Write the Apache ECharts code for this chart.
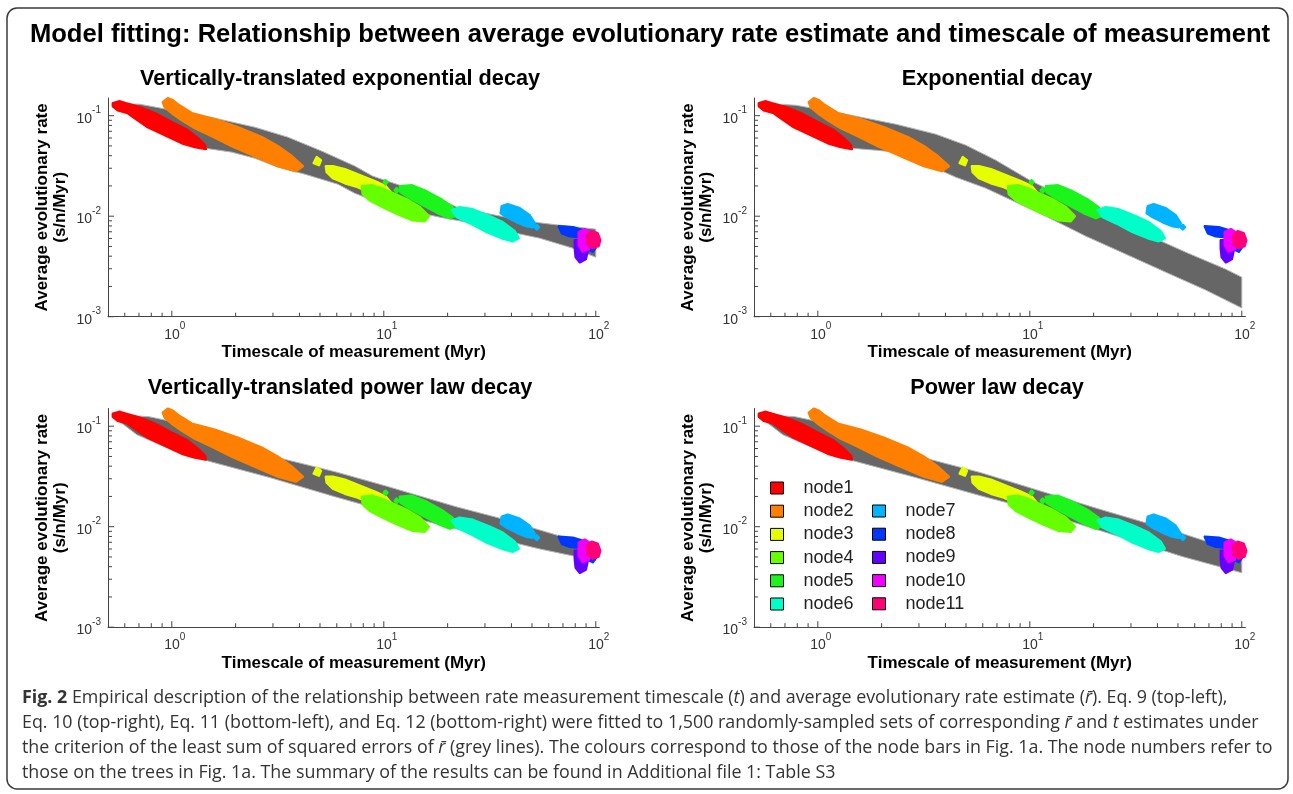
<!DOCTYPE html>
<html>
<head>
<meta charset="utf-8">
<script src="https://cdn.jsdelivr.net/npm/echarts@6/dist/echarts.min.js"></script>
<style>
html, body { margin: 0; padding: 0; background: #fff; }
#chart { width: 1293px; height: 794px; }
</style>
</head>
<body>
<div id="chart"></div>
<script>
// node clouds, each one a list of outlines; points are [timescale (Myr), rate (s/n/Myr)]
var node1 = [[[0.527,0.133],[0.569,0.139],[0.607,0.133],[0.706,0.1215],[0.832,0.106],[1.0,0.0862],[1.189,0.0717],[1.327,0.0597],[1.431,0.0509],[1.447,0.0465],[1.283,0.0487],[1.115,0.0532],[0.927,0.064],[0.770,0.0769],[0.669,0.0944],[0.620,0.106],[0.556,0.1134],[0.527,0.1244]]];
var node2 = [[[0.907,0.136],[0.957,0.149],[1.011,0.1426],[1.067,0.130],[1.243,0.106],[1.595,0.0923],[2.047,0.0769],[2.657,0.0611],[3.16,0.0498],[3.68,0.0396],[4.15,0.0315],[3.84,0.0281],[3.16,0.0315],[2.46,0.0396],[1.918,0.0498],[1.544,0.0625],[1.284,0.0752],[1.115,0.0902],[1.0,0.106],[0.927,0.1215]]];
var node3 = [[[5.33,0.0314],[5.75,0.0314],[6.55,0.0294],[7.70,0.0256],[9.07,0.0223],[10.2,0.0199],[10.8,0.0173],[10.2,0.0158],[8.78,0.0169],[7.54,0.0195],[6.55,0.0213],[5.75,0.0239],[5.38,0.0274]],
             [[4.67,0.0337],[4.83,0.0387],[5.05,0.0361],[4.94,0.0322]]];
var node4 = [[[7.88,0.0199],[8.78,0.0203],[9.79,0.0190],[11.1,0.0169],[12.8,0.0148],[14.8,0.0123],[16.3,0.0100],[15.6,0.00891],[13.6,0.00912],[11.6,0.0105],[9.89,0.0123],[8.59,0.0144],[7.96,0.0166]]];
var node5 = [[[11.9,0.0199],[13.6,0.0203],[15.9,0.0177],[18.6,0.0148],[21.1,0.0123],[22.1,0.0102],[20.5,0.00955],[18.0,0.0107],[15.3,0.0129],[13.3,0.0151],[12.0,0.0173]],
             [[10.0,0.0218],[10.2,0.0228],[10.4,0.0218],[10.2,0.0208]],
             [[11.25,0.0181],[11.5,0.019],[11.75,0.0181],[11.5,0.0173]]];
var node6 = [[[20.9,0.0115],[22.8,0.0123],[26.3,0.0117],[31.6,0.0100],[36.4,0.00871],[41.5,0.00708],[43.3,0.00604],[40.6,0.00564],[36.0,0.00604],[30.6,0.00693],[25.5,0.00851],[22.1,0.00977]]];
var node7 = [[[36.0,0.0126],[38.4,0.0132],[43.8,0.0120],[48.8,0.0102],[51.5,0.00851],[50.4,0.00776],[47.3,0.00794],[42.4,0.00871],[38.0,0.00977],[35.6,0.0107]],
             [[51.5,0.0078],[52.7,0.0082],[53.9,0.0078],[52.7,0.0074]]];
var node8 = [[[66.9,0.00795],[77.9,0.00776],[86.8,0.00726],[93.7,0.00647],[100,0.00487],[96.8,0.00444],[88.8,0.00487],[84.0,0.00618],[75.4,0.00632],[69.2,0.00677]]];
var node9 = [[[79.6,0.00577],[88.8,0.00577],[91.6,0.00459],[89.7,0.00373],[84.0,0.00348],[80.4,0.00391],[79.6,0.00481]]];
var node10 = [[[83.1,0.00693],[88.8,0.00743],[93.7,0.00693],[94.7,0.00551],[92.7,0.00470],[86.8,0.00444],[83.1,0.00514]]];
var node11 = [[[90.7,0.00647],[95.7,0.00709],[102,0.00677],[105,0.00577],[103,0.00503],[96.8,0.00481],[91.6,0.00526]]];

var nodeNames = ['node1','node2','node3','node4','node5','node6','node7','node8','node9','node10','node11'];
var nodeColors = ['#ff0000','#ff8000','#e6ff00','#66ff00','#1cf51c','#00ffc8','#00b4ff','#0037ff','#6400ff','#f000ff','#ff0078'];
var nodes = [node1, node2, node3, node4, node5, node6, node7, node8, node9, node10, node11];

// envelope of the 1,500 fitted curves (upper edge left to right, lower edge right to left)
var expVTUpper = [[0.533,0.133],[0.706,0.130],[1.189,0.106],[1.595,0.0944],[2.46,0.0769],[3.53,0.0611],[5.10,0.0444],[7.30,0.0315],[8.88,0.0250],[11.9,0.0203],[18.4,0.0148],[22.1,0.0123],[31.6,0.0105],[47.3,0.00891],[67.6,0.00813],[100,0.00743]];
var expVTLower = [[100,0.00391],[77.9,0.00481],[54.4,0.00604],[38.0,0.00708],[26.3,0.00851],[18.4,0.00977],[12.8,0.0115],[8.88,0.0144],[7.30,0.0169],[6.07,0.0208],[4.24,0.0262],[3.16,0.0308],[2.46,0.0378],[1.918,0.0434],[1.431,0.0475],[1.152,0.0545],[0.832,0.0804],[0.600,0.111],[0.533,0.1244]];
var expUpper = [[0.533,0.133],[0.787,0.127],[1.355,0.1035],[2.33,0.0823],[3.60,0.0655],[4.99,0.0509],[6.91,0.0361],[10.0,0.0228],[14.8,0.0151],[22.8,0.0100],[35.2,0.00662],[54.4,0.00438],[84.0,0.00297],[100,0.00247]];
var expLower = [[100,0.00122],[67.6,0.00184],[43.8,0.00277],[28.4,0.00419],[18.4,0.00632],[11.9,0.0100],[8.59,0.0138],[6.20,0.0190],[4.48,0.0244],[3.60,0.0300],[2.90,0.0378],[2.33,0.0434],[1.877,0.0454],[1.431,0.0475],[1.152,0.0545],[0.832,0.0804],[0.600,0.111],[0.533,0.1244]];
var powVTUpper = [[0.538,0.130],[0.779,0.1244],[1.067,0.1083],[1.431,0.0862],[2.90,0.0509],[5.87,0.0353],[10.1,0.0256],[21.9,0.0158],[34.5,0.0123],[53.8,0.00933],[100,0.00632]];
var powVTLower = [[100,0.00459],[53.8,0.00604],[21.9,0.00955],[10.1,0.0144],[5.87,0.0199],[2.90,0.0308],[1.463,0.0454],[1.022,0.0571],[0.684,0.0823],[0.569,0.111]];
var powUpper = [[0.538,0.130],[0.779,0.1244],[1.067,0.1083],[1.431,0.0862],[2.90,0.0509],[5.87,0.0345],[10.0,0.0244],[21.6,0.0148],[52.7,0.00851],[100,0.00551]];
var powLower = [[100,0.00348],[52.7,0.00503],[21.6,0.00912],[10.0,0.0151],[5.87,0.0203],[2.90,0.0308],[1.463,0.0454],[1.022,0.0571],[0.684,0.0823],[0.569,0.111]];

var xMajorTicks = [1, 10, 100];
var xMinorTicks = [0.6,0.7,0.8,0.9,2,3,4,5,6,7,8,9,20,30,40,50,60,70,80,90];
var yMajorTicks = [0.001, 0.01, 0.1];
var yMinorTicks = [0.002,0.003,0.004,0.005,0.006,0.007,0.008,0.009,0.02,0.03,0.04,0.05,0.06,0.07,0.08,0.09];

var mainTitle = 'Model fitting: Relationship between average evolutionary rate estimate and timescale of measurement';
var xName = 'Timescale of measurement (Myr)';
var yName = 'Average evolutionary rate\n(s/n/Myr)';
var captionLines = [
    '{b|Fig. 2} Empirical description of the relationship between rate measurement timescale ({i|t}) and average evolutionary rate estimate ({i|r\u0304}). Eq. 9 (top-left),',
    'Eq. 10 (top-right), Eq. 11 (bottom-left), and Eq. 12 (bottom-right) were fitted to 1,500 randomly-sampled sets of corresponding {i|r\u0304} and {i|t} estimates under',
    'the criterion of the least sum of squared errors of {i|r\u0304} (grey lines). The colours correspond to those of the node bars in Fig. 1a. The node numbers refer to',
    'those on the trees in Fig. 1a. The summary of the results can be found in Additional file 1: Table S3'
];

var X_MIN = 0.5, X_MAX = 104, Y_MIN = 0.001, Y_MAX = 0.15;
var FONT = '"Liberation Sans", Arial, sans-serif';
var CAP_FONT = '"Open Sans", sans-serif';
var CAP_SIZE = 17.85;

var panels = [
    {title: 'Vertically-translated exponential decay', upper: expVTUpper, lower: expVTLower, left: 108, top: 98, cx: 340},
    {title: 'Exponential decay', upper: expUpper, lower: expLower, left: 754, top: 98, cx: 997},
    {title: 'Vertically-translated power law decay', upper: powVTUpper, lower: powVTLower, left: 108, top: 408.5, cx: 340},
    {title: 'Power law decay', upper: powUpper, lower: powLower, left: 754, top: 408.5, cx: 997}
];

function powLabel(v) {
    var lg = Math.log(v) / Math.LN10;
    var e = Math.round(lg);
    if (Math.abs(lg - e) > 1e-6) return '';
    return '{a|10}{b|' + e + '}';
}

function bandRender(upper, lower) {
    return function (params, api) {
        if (params.dataIndex !== 0) return;
        var pts = upper.concat(lower).map(function (d) { return api.coord(d); });
        return {
            type: 'polygon',
            shape: {points: pts},
            style: {fill: '#666666', stroke: '#b4b4b4', lineWidth: 1, lineJoin: 'round'}
        };
    };
}

function nodeRender(polys, color) {
    return function (params, api) {
        var pts = polys[params.dataIndex].map(function (d) { return api.coord(d); });
        return {
            type: 'polygon',
            shape: {points: pts},
            style: {fill: color, stroke: color, lineWidth: 2.5, lineJoin: 'round'}
        };
    };
}

function tickRender(params, api) {
    var p = api.coord([api.value(0), api.value(1)]);
    var len = api.value(3) ? 6 : 4;
    var horiz = api.value(2) === 1;
    return {
        type: 'line',
        shape: horiz ? {x1: p[0], y1: p[1], x2: p[0] + len, y2: p[1]} : {x1: p[0], y1: p[1], x2: p[0], y2: p[1] - len},
        style: {stroke: '#444', lineWidth: 1}
    };
}

var tickItems = [];
xMajorTicks.forEach(function (v) { tickItems.push([v, Y_MIN, 0, 1]); });
xMinorTicks.forEach(function (v) { tickItems.push([v, Y_MIN, 0, 0]); });
yMajorTicks.forEach(function (v) { tickItems.push([X_MIN, v, 1, 1]); });
yMinorTicks.forEach(function (v) { tickItems.push([X_MIN, v, 1, 0]); });

var grids = [], xAxes = [], yAxes = [], series = [], graphics = [];
var labelRich = {
    a: {fontSize: 14, fontFamily: FONT, color: '#333', lineHeight: 20, verticalAlign: 'bottom'},
    b: {fontSize: 10, fontFamily: FONT, color: '#333', lineHeight: 12, verticalAlign: 'top'}
};
var xLabelRich = {
    a: {fontSize: 14, fontFamily: FONT, color: '#333', lineHeight: 20, verticalAlign: 'bottom', padding: [0, 0, 0, 6]},
    b: labelRich.b
};
var nameStyle = {fontFamily: FONT, fontWeight: 'bold', fontSize: 17, color: '#000', lineHeight: 18};

panels.forEach(function (p, gi) {
    grids.push({left: p.left, top: p.top, width: 491.4, height: 218.7});
    xAxes.push({
        type: 'log', logBase: 10, gridIndex: gi, min: X_MIN, max: X_MAX,
        axisLine: {onZero: false, lineStyle: {color: '#444', width: 1}},
        axisTick: {show: false}, splitLine: {show: false},
        axisLabel: {formatter: powLabel, rich: xLabelRich, margin: 5},
        name: xName, nameLocation: 'middle', nameGap: 27, nameTextStyle: nameStyle
    });
    yAxes.push({
        type: 'log', logBase: 10, gridIndex: gi, min: Y_MIN, max: Y_MAX,
        axisLine: {onZero: false, lineStyle: {color: '#444', width: 1}},
        axisTick: {show: false}, splitLine: {show: false},
        axisLabel: {formatter: powLabel, rich: labelRich, margin: 7},
        name: yName, nameLocation: 'middle', nameGap: 39, nameRotate: 90, nameTextStyle: nameStyle
    });
    series.push({
        type: 'custom', name: 'fits', xAxisIndex: gi, yAxisIndex: gi, silent: true, z: 1,
        data: [p.upper[0]], renderItem: bandRender(p.upper, p.lower)
    });
    nodes.forEach(function (polys, ni) {
        series.push({
            type: 'custom', name: nodeNames[ni], xAxisIndex: gi, yAxisIndex: gi, silent: true, z: 2,
            itemStyle: {color: nodeColors[ni]},
            data: polys.map(function (poly) { return poly[0]; }),
            renderItem: nodeRender(polys, nodeColors[ni])
        });
    });
    series.push({
        type: 'custom', name: 'ticks', xAxisIndex: gi, yAxisIndex: gi, silent: true, z: 3,
        data: tickItems, renderItem: tickRender
    });
    graphics.push({
        type: 'text', x: p.cx, y: gi < 2 ? 79 : 388,
        style: {text: p.title, font: 'bold 21.7px ' + FONT, fill: '#000', align: 'center', verticalAlign: 'middle'}
    });
});

graphics.push({
    type: 'rect', shape: {x: 7, y: 8, width: 1281, height: 781, r: 10},
    style: {fill: 'none', stroke: '#3a3a3a', lineWidth: 1.5}
});
graphics.push({
    type: 'text', x: 650, y: 35,
    style: {text: mainTitle, font: 'bold 25.6px ' + FONT, fill: '#000', align: 'center', verticalAlign: 'middle'}
});
graphics.push({
    type: 'text', x: 22, y: 685,
    style: {
        text: captionLines.join('\n'), fontSize: CAP_SIZE, fontFamily: CAP_FONT, fill: '#333',
        lineHeight: 25, align: 'left', verticalAlign: 'top',
        rich: {
            b: {fontSize: CAP_SIZE, fontFamily: CAP_FONT, fontWeight: 'bold', fill: '#333', lineHeight: 25},
            i: {fontSize: CAP_SIZE, fontFamily: CAP_FONT, fontStyle: 'italic', fill: '#333', lineHeight: 25}
        }
    }
});

var legendCommon = {
    orient: 'vertical', selectedMode: false, icon: 'rect', padding: 0,
    itemWidth: 13, itemHeight: 12, itemGap: 5.2,
    itemStyle: {borderColor: '#000', borderWidth: 1},
    textStyle: {fontFamily: FONT, fontSize: 18, color: '#222', lineHeight: 18, padding: [0, 0, 0, 15]}
};

var chart = echarts.init(document.getElementById('chart'));
chart.setOption({
    animation: false,
    backgroundColor: '#fff',
    grid: grids,
    xAxis: xAxes,
    yAxis: yAxes,
    legend: [
        Object.assign({left: 770, top: 479, data: nodeNames.slice(0, 6)}, legendCommon),
        Object.assign({left: 872, top: 502, data: nodeNames.slice(6)}, legendCommon)
    ],
    graphic: graphics,
    series: series
});
</script>
</body>
</html>
